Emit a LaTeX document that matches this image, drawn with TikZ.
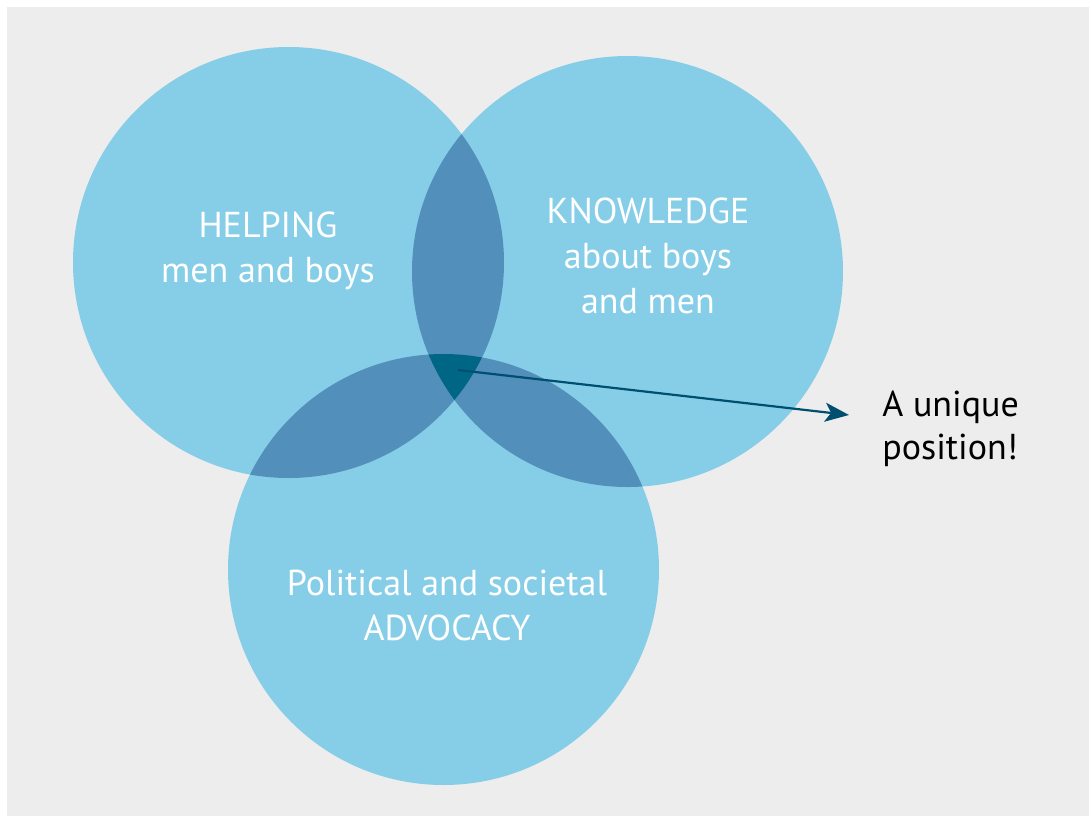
\documentclass[tikz,border=0pt]{standalone}
\usepackage{fontspec}
\usepackage{xcolor}
\setmainfont{PT Sans}
\usetikzlibrary{arrows.meta, positioning}

\definecolor{bggray}{HTML}{ECEDEC}
\definecolor{lightblue}{HTML}{86CEE7}
\definecolor{midblue}{HTML}{538FBB}
\definecolor{darkteal}{HTML}{006686}
\definecolor{arrowblue}{HTML}{004F70}

\begin{document}
\begin{tikzpicture}[x=0.5pt, y=-0.5pt]
    \tikzstyle{label} = [text=white, align=center, inner sep=0pt, font=\fontsize{18}{22.5}\selectfont]
    \tikzstyle{note} = [text=black, align=left, inner sep=0pt, font=\fontsize{18}{21.5}\selectfont]
    \tikzstyle{pointer} = [line width=1.1pt, draw=arrowblue, -{Stealth[length=12pt, width=9.5pt, inset=3pt]}]

    \useasboundingbox (0,0) rectangle (1089,816);
    \fill[bggray] (7,7) rectangle (1089,816);

    \coordinate (helpc) at (288.5,262.5);
    \coordinate (knowc) at (627.5,271.5);
    \coordinate (advoc) at (443.5,569.5);

    % the three circles
    \fill[lightblue] (helpc) circle[radius=215.5];
    \fill[lightblue] (knowc) circle[radius=215.5];
    \fill[lightblue] (advoc) circle[radius=215.5];

    % overlaps of two
    \begin{scope}
        \clip (helpc) circle[radius=215.5];
        \fill[midblue] (knowc) circle[radius=215.5];
        \fill[midblue] (advoc) circle[radius=215.5];
    \end{scope}
    \begin{scope}
        \clip (knowc) circle[radius=215.5];
        \fill[midblue] (advoc) circle[radius=215.5];
    \end{scope}

    % overlap of all three
    \begin{scope}
        \clip (helpc) circle[radius=215.5];
        \clip (knowc) circle[radius=215.5];
        \fill[darkteal] (advoc) circle[radius=215.5];
    \end{scope}

    \node (helping) [label] at (268,251) {HELPING\\men and boys};
    \node (knowledge) [label] at (648,256) {KNOWLEDGE\\about boys\\and men};
    \node (advocacy) [label] at (447,605) {Political and societal\\ADVOCACY};

    \coordinate (core) at (458,370);
    \coordinate (tip) at (849,415);
    \node (unique) [note, anchor=west] at (882,429) {A unique\\position!};

    \draw [pointer] (core) -- (tip);
\end{tikzpicture}
\end{document}
